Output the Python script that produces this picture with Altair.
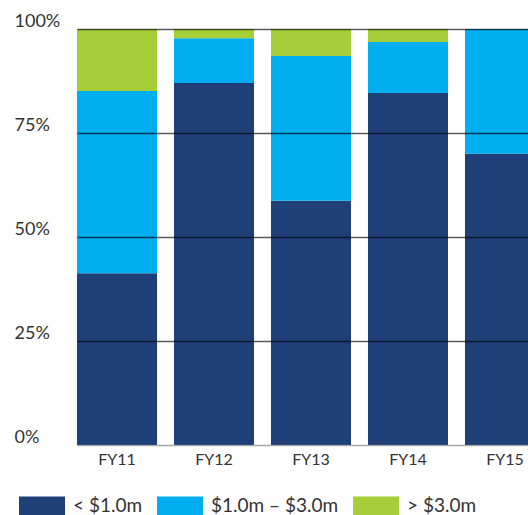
import altair as alt
import pandas as pd

years = ["FY11", "FY12", "FY13", "FY14", "FY15"]
series = ["< $1.0m", "$1.0m – $3.0m", "> $3.0m"]
colors = ["#1f3f78", "#00adee", "#a6ce39"]
lt1 = [41.3, 87.0, 58.7, 84.6, 70.0]
mid = [43.8, 10.8, 34.8, 12.3, 30.0]
gt3 = [14.9, 2.2, 6.5, 3.1, 0.0]
y_ticks = [0, 0.25, 0.5, 0.75, 1.0]

rows = []
for i, yr in enumerate(years):
    for k, (name, vals) in enumerate(zip(series, [lt1, mid, gt3])):
        rows.append({"year": yr, "band": name, "value": vals[i], "o": k})
df = pd.DataFrame(rows)

FONT = "Lato"

chart = alt.Chart(df).mark_bar(clip=True).encode(
    x=alt.X("year:N", sort=years, title=None,
            scale=alt.Scale(range=[64, 532], paddingInner=0.175, paddingOuter=0),
            axis=alt.Axis(ticks=False, domain=False, labelAngle=0, labelPadding=6,
                          labelFontSize=16, labelColor="#333333", labelFont=FONT)),
    y=alt.Y("value:Q", stack="normalize", title=None,
            scale=alt.Scale(domain=[0, 1], nice=False),
            axis=alt.Axis(values=y_ticks, format=".0%", domain=False, ticks=False, tickSize=0,
                          grid=True, zindex=1, gridWidth=1.5,
                          gridColor={"condition": {"test": "datum.value === 0", "value": "#7a7a7a"},
                                     "value": "#000000"},
                          gridOpacity=0.65,
                          labelAlign="left", labelBaseline="alphabetic", labelPadding=-1,
                          labelOffset=-3, labelFlush=False, labelOverlap=False,
                          labelFontSize=18, labelColor="#333333", labelFont=FONT)),
    color=alt.Color("band:N", scale=alt.Scale(domain=series, range=colors), title=None,
                    legend=alt.Legend(orient="none", legendX=6, legendY=454, direction="horizontal",
                                      symbolType="M-1,-0.435H1V0.435H-1Z", symbolSize=2116,
                                      symbolStrokeWidth=0, symbolOpacity=1,
                                      labelOffset=8, columnPadding=14, padding=0,
                                      labelFontSize=19, labelColor="#333333", labelFont=FONT,
                                      labelLimit=300)),
    order=alt.Order("o:Q", sort="ascending"),
).properties(
    width=515, height=416,
    autosize=alt.AutoSizeParams(type="none"),
    padding={"left": 13, "top": 29, "right": 0, "bottom": 70},
    background="white",
).configure_view(stroke=None)

chart.save("out.html", embed_options={"renderer": "svg", "actions": False})
